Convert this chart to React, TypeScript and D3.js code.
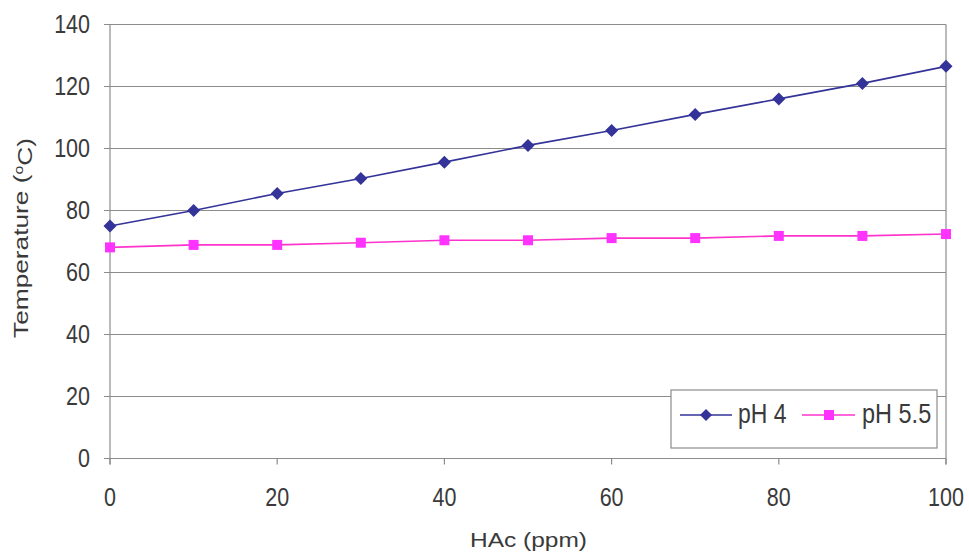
import React from "react";
import * as d3 from "d3";

const hac = [0, 10, 20, 30, 40, 50, 60, 70, 80, 90, 100];
const ph4 = [75, 80, 85.5, 90.3, 95.6, 101, 105.8, 111, 116, 121, 126.5];
const ph55 = [68.1, 68.9, 68.9, 69.6, 70.4, 70.4, 71.1, 71.1, 71.8, 71.8, 72.4];
const yTicks = [0, 20, 40, 60, 80, 100, 120, 140];
const xTicks = [0, 20, 40, 60, 80, 100];
const seriesNames = ["pH 4", "pH 5.5"];

const W = 969, H = 558;
const left = 110, right = 946, top = 24.5, bottom = 458.5;
const textColor = "#3a3a3a";
const font = "Liberation Sans, Arial, sans-serif";
const gridColor = "#8c8c8c";

export default function App() {
  const x = d3.scaleLinear().domain([0, 100]).range([left, right]);
  const y = d3.scaleLinear().domain([0, 140]).range([bottom, top]);
  const line = d3.line<number>().x((_, i) => x(hac[i])).y((d) => y(d));
  const diamond = (cx: number, cy: number, r: number) =>
    `M${cx},${cy - r}L${cx + r},${cy}L${cx},${cy + r}L${cx - r},${cy}Z`;

  return (
    <svg width={W} height={H} style={{ position: "absolute", left: 0, top: 0, background: "#fff" }}>
      {yTicks.map((t) => (
        <g key={t}>
          <line x1={left - 6} x2={right} y1={y(t)} y2={y(t)} stroke={gridColor} strokeWidth={1.2} />
          <text
            transform={`translate(90,${y(t) + 8}) scale(1,1.22)`}
            textAnchor="end"
            fontFamily={font}
            fontSize={21.5}
            fill={textColor}
          >
            {t}
          </text>
        </g>
      ))}
      <line x1={left} x2={left} y1={top} y2={bottom + 6} stroke={gridColor} strokeWidth={1.2} />
      <line x1={right} x2={right} y1={top} y2={bottom + 6} stroke={gridColor} strokeWidth={1.2} />
      {xTicks.map((t) => (
        <g key={t}>
          <line x1={x(t)} x2={x(t)} y1={bottom} y2={bottom + 6} stroke={gridColor} strokeWidth={1.2} />
          <text
            transform={`translate(${x(t)},506) scale(1,1.22)`}
            textAnchor="middle"
            fontFamily={font}
            fontSize={21.5}
            fill={textColor}
          >
            {t}
          </text>
        </g>
      ))}
      <text
        x={528.5}
        y={547}
        textAnchor="middle"
        fontFamily={font}
        fontSize={21}
        fill={textColor}
        textLength={117}
        lengthAdjust="spacingAndGlyphs"
      >
        HAc (ppm)
      </text>
      <text
        transform={`translate(28,238) rotate(-90)`}
        textAnchor="middle"
        fontFamily={font}
        fontSize={20}
        fill={textColor}
        textLength={200}
        lengthAdjust="spacingAndGlyphs"
      >
        Temperature (<tspan dy="-0.45em" fontSize={12}>o</tspan>
        <tspan dy="0.45em">C)</tspan>
      </text>

      <path d={line(ph4) || ""} fill="none" stroke="#333399" strokeWidth={1.6} />
      <path d={line(ph55) || ""} fill="none" stroke="#ff33cc" strokeWidth={1.6} />
      {ph4.map((v, i) => (
        <path key={"a" + i} d={diamond(x(hac[i]), y(v), 6.5)} fill="#333399" />
      ))}
      {ph55.map((v, i) => (
        <rect key={"b" + i} x={x(hac[i]) - 5} y={y(v) - 5} width={10} height={10} fill="#ff33ff" />
      ))}

      <rect x={671} y={390} width={266} height={58} fill="#fff" stroke={gridColor} strokeWidth={1.2} />
      <line x1={680} x2={732} y1={415} y2={415} stroke="#333399" strokeWidth={1.6} />
      <path d={diamond(706, 415, 6)} fill="#333399" />
      <text transform="translate(738,423) scale(1,1.18)" fontFamily={font} fontSize={23} fill={textColor}>
        {seriesNames[0]}
      </text>
      <line x1={802} x2={855} y1={415} y2={415} stroke="#ff33cc" strokeWidth={1.6} />
      <rect x={824} y={410} width={10} height={10} fill="#ff33ff" />
      <text transform="translate(862,423) scale(1,1.18)" fontFamily={font} fontSize={23.5} fill={textColor}>
        {seriesNames[1]}
      </text>
    </svg>
  );
}
